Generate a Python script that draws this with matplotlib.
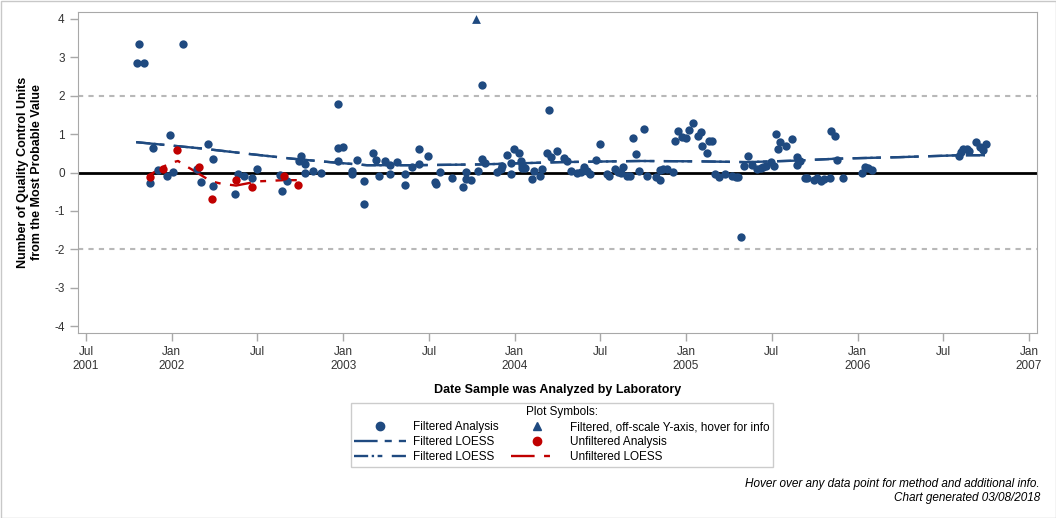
import matplotlib
matplotlib.use("Agg")
import matplotlib.pyplot as plt
from matplotlib.lines import Line2D
from matplotlib.patches import Rectangle

plt.rcParams['font.family'] = ['Liberation Sans', 'DejaVu Sans']
plt.rcParams['axes.unicode_minus'] = False

# Filtered analyses (decimal year, QC units from most probable value)
filtX = [2001.796, 2001.811, 2001.840, 2002.068, 2001.875, 2001.893, 2001.917, 2001.974, 2001.992, 2002.009,
         2002.146, 2002.168, 2002.213, 2002.243, 2002.243, 2002.371, 2002.388, 2002.423, 2002.467, 2002.499,
         2002.633, 2002.645, 2002.674, 2002.754, 2002.742, 2002.777, 2002.780, 2002.826, 2002.872, 2002.972,
         2002.972, 2003.001, 2002.972, 2003.050, 2003.050, 2003.082, 2003.123, 2003.123, 2003.176, 2003.193,
         2003.211, 2003.246, 2003.275, 2003.275, 2003.316, 2003.362, 2003.362, 2003.403, 2003.444, 2003.444,
         2003.497, 2003.537, 2003.543, 2003.567, 2003.637, 2003.701, 2003.719, 2003.719, 2003.743, 2003.788,
         2003.812, 2003.812, 2003.827, 2003.899, 2003.919, 2003.925, 2003.957, 2003.981, 2003.981, 2003.996,
         2004.027, 2004.037, 2004.045, 2004.041, 2004.061, 2004.103, 2004.115, 2004.148, 2004.161, 2004.202,
         2004.187, 2004.212, 2004.249, 2004.290, 2004.307, 2004.329, 2004.366, 2004.385, 2004.406, 2004.420,
         2004.440, 2004.476, 2004.500, 2004.537, 2004.552, 2004.585, 2004.605, 2004.619, 2004.630, 2004.657,
         2004.673, 2004.692, 2004.708, 2004.727, 2004.756, 2004.774, 2004.825, 2004.848, 2004.848, 2004.867,
         2004.887, 2004.922, 2004.937, 2004.955, 2004.975, 2004.998, 2005.019, 2005.042, 2005.071, 2005.087,
         2005.095, 2005.124, 2005.134, 2005.153, 2005.169, 2005.194, 2005.227, 2005.266, 2005.291, 2005.305,
         2005.322, 2005.340, 2005.363, 2005.383, 2005.415, 2005.435, 2005.447, 2005.466, 2005.497, 2005.513,
         2005.525, 2005.534, 2005.550, 2005.585, 2005.615, 2005.645, 2005.645, 2005.665, 2005.694, 2005.707,
         2005.746, 2005.765, 2005.787, 2005.806, 2005.840, 2005.845, 2005.870, 2005.882, 2005.915, 2006.028,
         2006.044, 2006.063, 2006.083, 2006.594, 2006.604, 2006.617, 2006.637, 2006.652, 2006.691, 2006.714,
         2006.730, 2006.748]
filtY = [2.86, 3.35, 2.86, 3.35, -0.27, 0.64, 0.06, -0.10, 0.98, 0.02,
         0.10, -0.24, 0.75, 0.34, -0.36, -0.55, -0.03, -0.10, -0.15, 0.10,
         -0.06, -0.48, -0.22, 0.44, 0.29, 0.23, 0.00, 0.05, 0.00, 1.79,
         0.64, 0.67, 0.31, 0.05, -0.03, 0.33, -0.23, -0.82, 0.51, 0.33,
         -0.09, 0.30, 0.20, -0.03, 0.28, -0.03, -0.32, 0.15, 0.62, 0.23,
         0.43, -0.24, -0.29, 0.02, -0.14, -0.37, 0.02, -0.16, -0.19, 0.05,
         2.28, 0.36, 0.25, 0.02, 0.08, 0.16, 0.46, 0.26, -0.03, 0.60,
         0.51, 0.29, 0.20, 0.11, 0.11, -0.16, 0.05, -0.08, 0.08, 1.63,
         0.50, 0.40, 0.57, 0.39, 0.29, 0.05, 0.00, 0.02, 0.14, 0.05,
         -0.05, 0.33, 0.73, -0.03, -0.10, 0.10, 0.02, 0.00, 0.15, -0.10,
         -0.08, 0.89, 0.49, 0.05, 1.14, -0.08, -0.11, -0.20, 0.06, 0.08,
         0.10, 0.02, 0.83, 1.09, 0.92, 0.89, 1.11, 1.29, 0.95, 1.06,
         0.70, 0.52, 0.83, 0.83, -0.05, -0.11, -0.05, -0.10, -0.12, -0.11,
         -1.67, 0.17, 0.44, 0.20, 0.08, 0.12, 0.14, 0.16, 0.27, 0.17,
         1.01, 0.62, 0.80, 0.70, 0.88, 0.40, 0.20, 0.29, -0.14, -0.14,
         -0.19, -0.14, -0.21, -0.16, -0.14, 1.07, 0.95, 0.33, -0.14, 0.00,
         0.15, 0.12, 0.07, 0.43, 0.54, 0.60, 0.62, 0.57, 0.80, 0.67,
         0.58, 0.74]

# off-scale filtered analysis
offX = [2003.775]
offY = [4.0]

# unfiltered analyses
unfX = [2001.875, 2001.951, 2002.033, 2002.161, 2002.237, 2002.377, 2002.470, 2002.655, 2002.738]
unfY = [-0.13, 0.10, 0.59, 0.15, -0.69, -0.19, -0.37, -0.08, -0.32]

# LOESS curves
loessX = [2001.792, 2002.165, 2002.457, 2002.702, 2002.923, 2003.139, 2003.407, 2003.798, 2004.264,
          2004.731, 2005.081, 2005.355, 2005.647, 2005.880, 2006.248, 2006.598, 2006.743]
loessY = [0.79, 0.63, 0.48, 0.36, 0.27, 0.19, 0.19, 0.21, 0.27, 0.30, 0.29, 0.27, 0.31, 0.36, 0.40, 0.45, 0.45]
unfLoessX = [2001.860, 2001.990, 2002.037, 2002.066, 2002.117, 2002.229, 2002.287, 2002.375, 2002.503,
             2002.562, 2002.649, 2002.731]
unfLoessY = [-0.09, 0.25, 0.30, 0.21, 0.08, -0.23, -0.29, -0.34, -0.23, -0.22, -0.20, -0.20]

tickPos = [2001.5, 2002, 2002.5, 2003, 2003.5, 2004, 2004.5, 2005, 2005.5, 2006, 2006.5, 2007]
tickLab = ["Jul\n2001", "Jan\n2002", "Jul", "Jan\n2003", "Jul", "Jan\n2004", "Jul", "Jan\n2005", "Jul",
           "Jan\n2006", "Jul", "Jan\n2007"]

blue = '#1f4a80'
red = '#c00000'
gray = '#a8a8a8'
lsF1 = (0, (12, 4))
lsF2 = (0, (6, 1.5, 1, 1.5, 2, 4))
lsU = (0, (9, 4, 2.5, 4))

fig = plt.figure(figsize=(10.56, 5.18), dpi=100)
ax = fig.add_axes([78/1056, 1-333/518, (1037-78)/1056, (333-12)/518])

ax.axhline(0, color='black', lw=2, zorder=1)
ax.axhline(2, color='#b8b8b8', lw=1.5, ls=(0, (2.5, 2.5)), zorder=1)
ax.axhline(-2, color='#b8b8b8', lw=1.5, ls=(0, (2.5, 2.5)), zorder=1)

ax.plot(loessX, loessY, color=blue, lw=1.7, ls=lsF1, zorder=2)
ax.plot(loessX, loessY, color=blue, lw=1.7, ls=lsF2, zorder=2)
ax.plot(unfLoessX, unfLoessY, color=red, lw=1.7, ls=lsU, zorder=2)

ax.scatter(filtX, filtY, s=36, color=blue, zorder=3, linewidths=0)
ax.scatter(offX, offY, s=40, marker='^', color=blue, zorder=3, linewidths=0)
ax.scatter(unfX, unfY, s=36, color=red, zorder=4, linewidths=0)

ax.set_xlim(2001.453, 2007.047)
ax.set_ylim(-4.18, 4.18)
ax.set_yticks(range(-4, 5))
ax.set_xticks(tickPos)
ax.set_xticklabels(tickLab)
ax.tick_params(colors='#333333', labelsize=8.5, length=6, width=1)
ax.tick_params(axis='both', color=gray)
for s in ax.spines.values():
    s.set_color(gray)

ax.set_xlabel("Date Sample was Analyzed by Laboratory", fontsize=9, fontweight='bold', labelpad=9)
ax.set_ylabel("Number of Quality Control Units\nfrom the Most Probable Value", fontsize=9,
              fontweight='bold', labelpad=8)

handles = [
    Line2D([], [], marker='o', color=blue, ls='none', markersize=6),
    Line2D([], [], color=blue, lw=1.7, ls=(0, (10, 3, 3, 3))),
    Line2D([], [], color=blue, lw=1.7, ls=lsF2),
    Line2D([], [], marker='^', color=blue, ls='none', markersize=6),
    Line2D([], [], marker='o', color=red, ls='none', markersize=6),
    Line2D([], [], color=red, lw=1.7, ls=(0, (10, 4, 2.5, 20))),
]
labels = ["Filtered Analysis", "Filtered LOESS", "Filtered LOESS",
          "Filtered, off-scale Y-axis, hover for info", "Unfiltered Analysis", "Unfiltered LOESS"]
leg = fig.legend(handles, labels, ncol=2, loc='upper center', bbox_to_anchor=(562/1056, 1-397/518),
                 title="Plot Symbols:", fontsize=8.5, title_fontsize=8.5, frameon=True, fancybox=False,
                 edgecolor='#c0c0c0', handlelength=4.4, columnspacing=1.0, labelspacing=0.25,
                 borderpad=0.3, handletextpad=0.6)
leg.get_frame().set_linewidth(1)

fig.text(1040/1056, 1-484/518, "Hover over any data point for method and additional info.",
         ha='right', va='center', fontsize=8.5, style='italic')
fig.text(1040/1056, 1-498/518, "Chart generated 03/08/2018",
         ha='right', va='center', fontsize=8.5, style='italic')

fig.patches.append(Rectangle((0.5/1056, 0.5/518), 1-1/1056, 1-1/518, transform=fig.transFigure,
                             fill=False, edgecolor='#c8c8c8', lw=1))

fig.savefig("out.png", dpi=100)
